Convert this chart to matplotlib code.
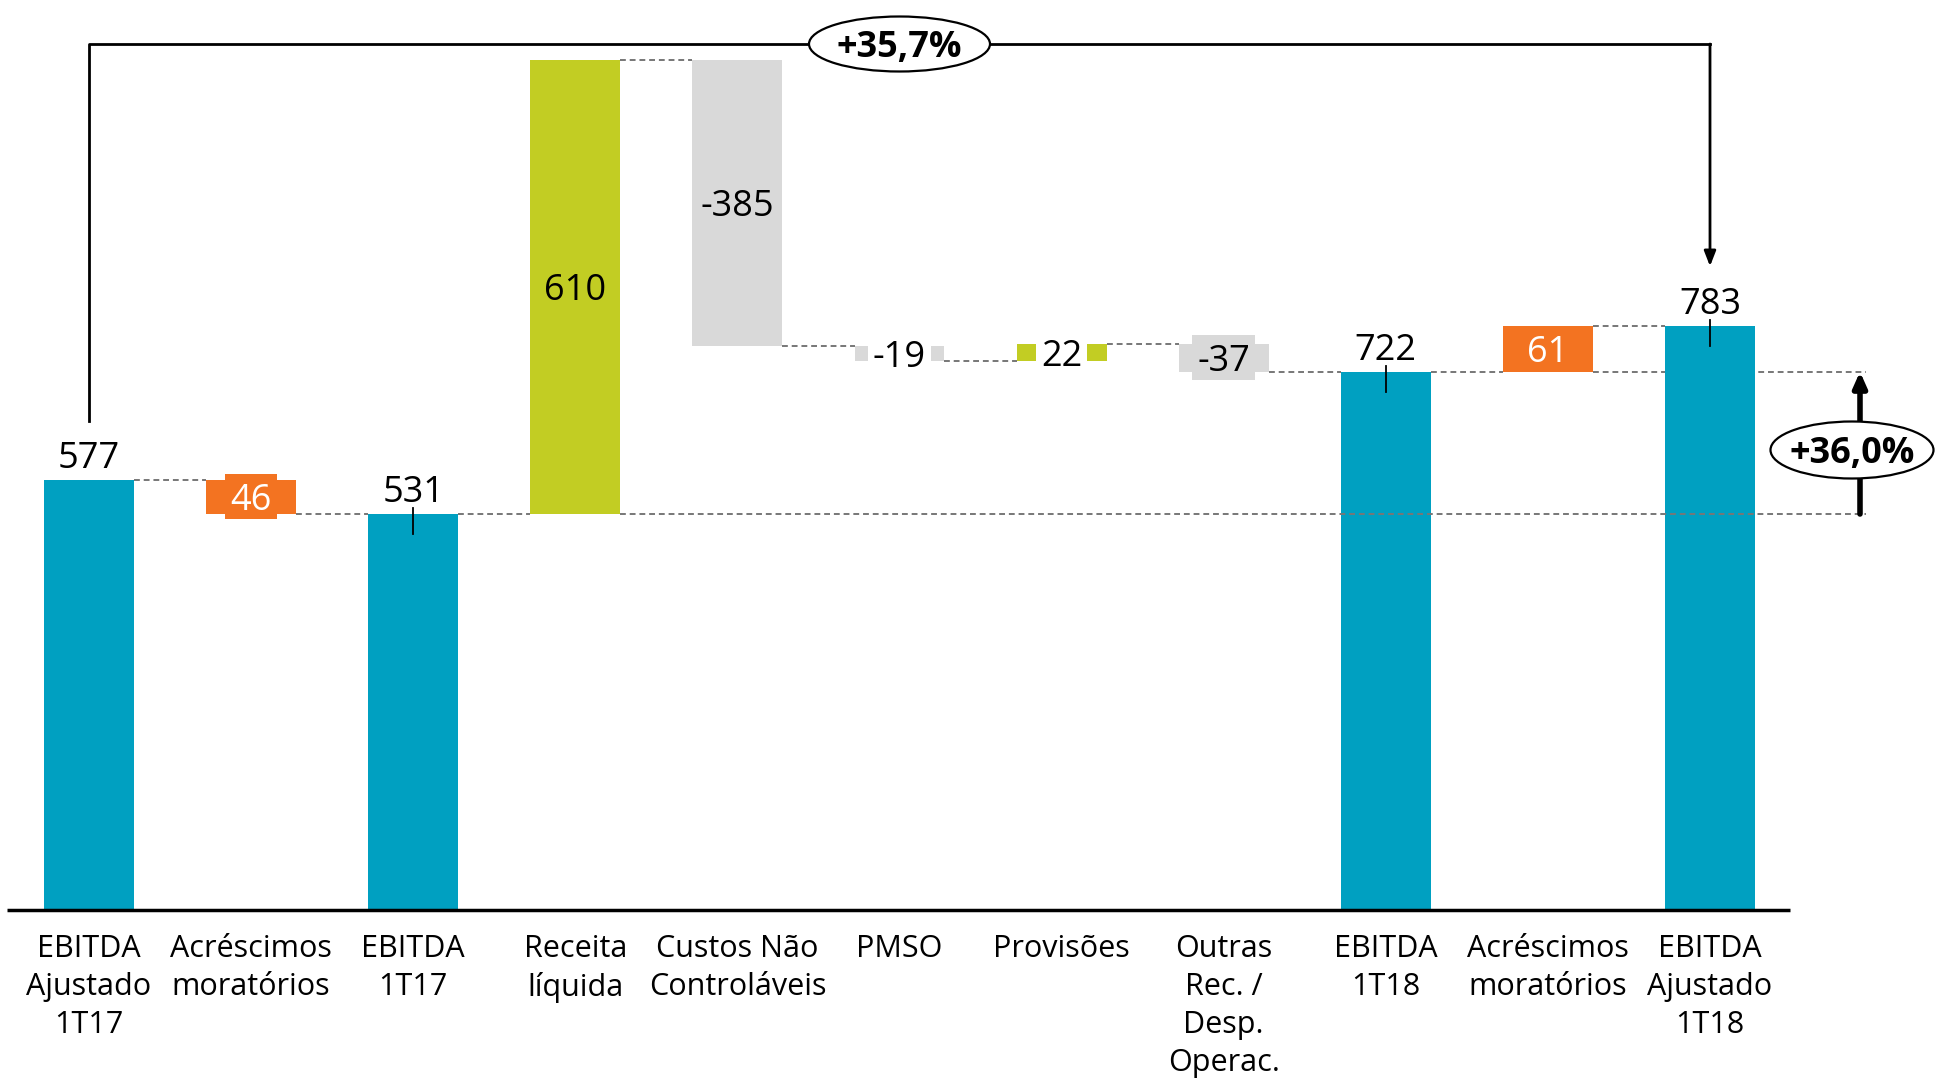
import matplotlib
matplotlib.use("Agg")
import matplotlib.pyplot as plt
from matplotlib.patches import Ellipse
from matplotlib.path import Path
import numpy as np

plt.rcParams['font.family'] = ['Open Sans', 'DejaVu Sans']

# ---------------- data ----------------
categories = ["EBITDA\nAjustado\n1T17", "Acréscimos\nmoratórios", "EBITDA\n1T17",
              "Receita\nlíquida", "Custos Não\nControláveis", "PMSO", "Provisões",
              "Outras\nRec. /\nDesp.\nOperac.", "EBITDA\n1T18", "Acréscimos\nmoratórios",
              "EBITDA\nAjustado\n1T18"]
values = [577, -46, 531, 610, -385, -19, 22, -37, 722, 61, 783]
is_total = [True, False, True, False, False, False, False, False, True, False, True]
value_labels = ["577", "46", "531", "610", "-385", "-19", "22", "-37", "722", "61", "783"]
growth_total = "+35,7%"
growth_reported = "+36,0%"

BLUE = "#00A0C1"
ORANGE = "#F37321"
GREEN = "#C2CD23"
GRAY = "#D9D9D9"
colors = [BLUE, ORANGE, BLUE, GREEN, GRAY, GRAY, GREEN, GRAY, BLUE, ORANGE, BLUE]
# label style: 'above' (totals), 'inside', 'box' (bar colour bbox), 'white' (white bbox)
label_style = ["above", "box", "above", "inside", "inside", "white", "white", "box",
               "above", "box", "above"]
label_color = ["black", "white", "black", "black", "black", "black", "black", "black",
               "black", "white", "black"]
tick_marks = [False, False, True, False, False, False, False, False, True, False, True]

# ---------------- figure ----------------
W, H, DPI = 1944, 1078, 100
fig = plt.figure(figsize=(W / DPI, H / DPI), dpi=DPI)
ax = fig.add_axes([0, 0, 1, 1])
ax.set_axis_off()

x0_px, dx_px = 89.0, 162.1
zero_px, ppu = 909.6, 0.745
ax.set_xlim(-x0_px / dx_px, (W - x0_px) / dx_px)
ax.set_ylim((zero_px - H) / ppu, zero_px / ppu)


def px(n):  # pixels -> data units (y)
    return n / ppu


def xpx(n):  # pixel column -> data x
    return (n - x0_px) / dx_px


def padded_box(padx, pad_bottom, pad_top):
    def box(x0, y0, width, height, mutation_size):
        return Path([(x0 - padx, y0 - pad_bottom), (x0 + width + padx, y0 - pad_bottom),
                     (x0 + width + padx, y0 + height + pad_top),
                     (x0 - padx, y0 + height + pad_top),
                     (x0 - padx, y0 - pad_bottom)], closed=True)
    return box


x = np.arange(len(values))
bw = 0.555

bottoms, heights, tops_run = [], [], []
running = 0
for v, t in zip(values, is_total):
    if t:
        bottoms.append(0); heights.append(v); running = v
    else:
        bottoms.append(running + min(0, v)); heights.append(abs(v)); running += v
    tops_run.append(running)

ax.bar(x, heights, bottom=bottoms, width=bw, color=colors, zorder=2)

# axis line
ax.plot([xpx(7), xpx(1790)], [0, 0], color="black", lw=2.5, zorder=3, solid_capstyle="butt")

dash_kw = dict(color="#777777", lw=1.4, dashes=(3, 2), zorder=1)
# connectors between consecutive bars
for i in range(len(values) - 1):
    lvl = tops_run[i]
    ax.plot([x[i] + bw / 2, x[i + 1] - bw / 2], [lvl, lvl], **dash_kw)
# long reference lines for the +36,0% arrow
right_end = xpx(1866)
ax.plot([x[3] + bw / 2, right_end], [values[2], values[2]], **dict(dash_kw, zorder=4))
ax.plot([x[9] + bw / 2, right_end], [values[8], values[8]], **dash_kw)

# value labels
for i in range(len(values)):
    top = bottoms[i] + heights[i]
    mid = bottoms[i] + heights[i] / 2
    st = label_style[i]
    if st == "above":
        ax.annotate(value_labels[i], (x[i], top), xytext=(0, 12), textcoords="offset pixels",
                    ha="center", va="baseline", fontsize=26, color=label_color[i], zorder=6)
    elif st == "inside":
        ax.text(x[i], mid, value_labels[i], ha="center", va="center_baseline", fontsize=26,
                color=label_color[i], zorder=6)
    else:
        fc = colors[i] if st == "box" else "white"
        ax.text(x[i], mid, value_labels[i], ha="center", va="center_baseline", fontsize=26,
                color=label_color[i], zorder=6,
                bbox=dict(boxstyle=padded_box(5, 0, 9), fc=fc, ec="none"))
    if tick_marks[i]:
        ax.plot([x[i], x[i]], [top + px(6), top - px(20)], color="black", lw=1.3, zorder=5)

# category labels
for i, c in enumerate(categories):
    ax.text(x[i], px(-24), c, ha="center", va="top", fontsize=22, linespacing=1.36)

# bracket with +35,7%
br_top = px(zero_px - 44)
ax.plot([x[0], x[0], x[10]], [values[0] + px(59), br_top, br_top], color="black", lw=2,
        zorder=3)
ax.annotate("", xy=(x[10], values[10] + px(60)), xytext=(x[10], br_top),
            arrowprops=dict(arrowstyle="-|>,head_length=0.9,head_width=0.35", color="black",
                            lw=2, shrinkA=0, shrinkB=0), zorder=3)
ax.add_patch(Ellipse((x[5], br_top), 181 / dx_px, px(55), fc="white", ec="black", lw=1.6,
                     zorder=7))
ax.text(x[5], br_top, growth_total, ha="center", va="center_baseline", fontsize=26,
        fontweight="bold", zorder=8)

# right arrow with +36,0%
arr_x = xpx(1860)
ax.annotate("", xy=(arr_x, values[8]), xytext=(arr_x, values[2]),
            arrowprops=dict(arrowstyle="-|>,head_length=0.9,head_width=0.4", color="black",
                            lw=4, shrinkA=0, shrinkB=0), zorder=5)
ell_y = px(zero_px - 450)
ell_x = xpx(1852)
ax.add_patch(Ellipse((ell_x, ell_y), 163 / dx_px, px(57), fc="white", ec="black", lw=1.6,
                     zorder=7))
ax.text(ell_x, ell_y, growth_reported, ha="center", va="center_baseline", fontsize=26,
        fontweight="bold", zorder=8)

fig.savefig("out.png", dpi=DPI, facecolor="white")
